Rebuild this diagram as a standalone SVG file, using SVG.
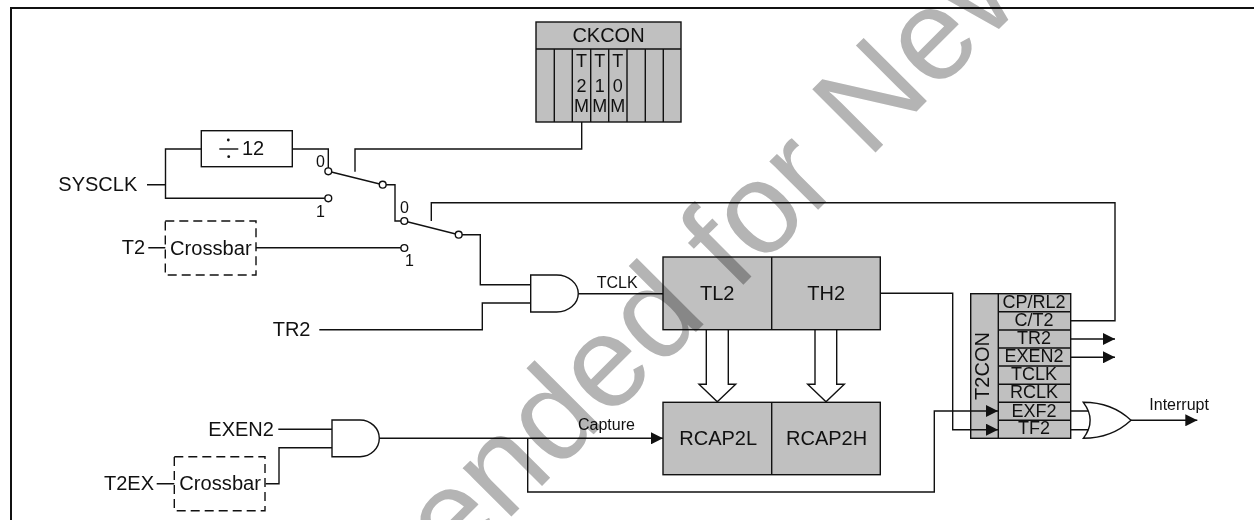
<svg xmlns="http://www.w3.org/2000/svg" width="1254" height="520" viewBox="0 0 1254 520">
<style>
text{font-family:"Liberation Sans",Arial,sans-serif;font-size:20px;fill:#111}
.s18{font-size:18px}.s16{font-size:16px}.m{text-anchor:middle}
.w,.b,.g,.d,.c{stroke:#111;stroke-width:1.4}
.w,.d{fill:none}.b{fill:#c0c0c0}.g{fill:#fff}.c{fill:#fff}
.d{stroke-dasharray:9 5}
.wm{font-size:130px;fill:#b4b4b4;mix-blend-mode:multiply}
</style>
<defs>
<marker id="a" markerUnits="userSpaceOnUse" markerWidth="13" markerHeight="12" refX="12" refY="6" orient="auto"><path d="M0 0L12 6L0 12z" fill="#111"/></marker>
</defs>
<rect width="1254" height="520" fill="#fff"/>
<path id="frame" d="M11 520V8H1254" fill="none" stroke="#111" stroke-width="2"/>
<g id="ckcon">
<rect class="b" x="536" y="22" width="145" height="100"/>
<path class="w" d="M536 49H681M554.3 49V122M572.3 49V122M590.7 49V122M608.7 49V122M627 49V122M645.3 49V122M663.3 49V122"/>
<text class="m" x="608.5" y="41.5">CKCON</text>
<text class="s18 m"><tspan x="581.5" y="67">T</tspan><tspan x="581.5" y="92">2</tspan><tspan x="581.5" y="112">M</tspan></text>
<text class="s18 m"><tspan x="599.7" y="67">T</tspan><tspan x="599.7" y="92">1</tspan><tspan x="599.7" y="112">M</tspan></text>
<text class="s18 m"><tspan x="617.8" y="67">T</tspan><tspan x="617.8" y="92">0</tspan><tspan x="617.8" y="112">M</tspan></text>
</g>
<g id="div12">
<rect class="g" x="201.3" y="130.7" width="91" height="36"/>
<path class="w" d="M219.3 149H238.3"/><circle cx="228.3" cy="140" r="1.4" fill="#111"/><circle cx="228.7" cy="156.7" r="1.4" fill="#111"/>
<text x="242" y="155">12</text>
</g>
<g id="timer">
<rect class="b" x="663" y="257" width="217.3" height="72.7"/><path class="w" d="M771.7 257V329.7"/>
<text x="700" y="300">TL2</text><text x="807.3" y="300">TH2</text>
</g>
<g id="rcap">
<rect class="b" x="663" y="402.3" width="217.3" height="72.4"/><path class="w" d="M771.7 402.3V474.7"/>
<text x="679.3" y="445">RCAP2L</text><text x="786" y="445">RCAP2H</text>
</g>
<g id="t2con">
<rect class="b" x="970.7" y="293.7" width="100" height="144.6"/>
<path class="w" d="M998.3 293.7V438.3M998.3 311.7H1070.7M998.3 330H1070.7M998.3 348H1070.7M998.3 366H1070.7M998.3 384.3H1070.7M998.3 402.3H1070.7M998.3 420.3H1070.7"/>
<text class="m" transform="translate(989.3 366) rotate(-90)">T2CON</text>
<text class="s18 m" x="1034" y="308">CP/RL2</text>
<text class="s18 m" x="1034" y="325.7">C/T2</text>
<text class="s18 m" x="1034" y="344">TR2</text>
<text class="s18 m" x="1034" y="362">EXEN2</text>
<text class="s18 m" x="1034" y="380">TCLK</text>
<text class="s18 m" x="1034" y="398.3">RCLK</text>
<text class="s18 m" x="1034" y="416.7">EXF2</text>
<text class="s18 m" x="1034" y="434.3">TF2</text>
</g>
<g id="connectors">
<path class="w" d="M147 184.7H165.5M201 149H165.5V198.3H325"/>
<path class="w" d="M292 149H328.3V168"/>
<path class="w" d="M328.3 171.3L382.7 184.7H395V221H404.3L458.7 234.7H480.3V284.7H531"/>
<path class="w" d="M355 171.7V149H581.7V122"/>
<path class="w" d="M431.3 221V202.7H1115V320.7H1070.7"/>
<path class="w" d="M148.3 247.7H165.3M256 247.7H401"/>
<path class="w" d="M319.3 329.7H482.3V303H531"/>
<path class="w" d="M578.3 293.7H663"/>
<path class="w" d="M880.5 293.3H952.7V429.7H998" marker-end="url(#a)"/>
<path class="w" d="M278.3 429.3H332M156.7 483.7H174.3M265.7 483.7H279V447.7H332"/>
<path class="w" d="M379.3 438.3H663" marker-end="url(#a)"/>
<path class="w" d="M527.7 438.3V492H934.3V411H998" marker-end="url(#a)"/>
<path class="w" d="M1070.7 339H1115" marker-end="url(#a)"/>
<path class="w" d="M1070.7 357.3H1115" marker-end="url(#a)"/>
<path class="w" d="M1070.7 411H1090M1070.7 429.7H1090"/>
<path class="w" d="M1131 420.3H1197.3" marker-end="url(#a)"/>
<path class="w" d="M706.3 329.7V384.3H699L717.3 401.7L735.7 384.3H728.3V329.7"/>
<path class="w" d="M815 329.7V384.3H807.7L826 401.7L844.3 384.3H836.7V329.7"/>
</g>
<g id="switch-1">
<circle class="c" cx="328.3" cy="171.3" r="3.4"/><circle class="c" cx="328.3" cy="198.3" r="3.4"/><circle class="c" cx="382.7" cy="184.7" r="3.4"/>
<text class="s16" x="316" y="167">0</text><text class="s16" x="316" y="216.7">1</text>
</g>
<g id="switch-2">
<circle class="c" cx="404.3" cy="221" r="3.4"/><circle class="c" cx="404.3" cy="248" r="3.4"/><circle class="c" cx="458.7" cy="234.7" r="3.4"/>
<text class="s16" x="400" y="213">0</text><text class="s16" x="405" y="266">1</text>
</g>
<g id="sysclk"><text x="58.3" y="191">SYSCLK</text></g>
<g id="t2"><text x="121.7" y="254.3">T2</text></g>
<g id="crossbar-1"><rect class="d" x="165.3" y="221" width="90.7" height="54"/><text x="170" y="254.5" textLength="81.7" lengthAdjust="spacingAndGlyphs">Crossbar</text></g>
<g id="tr2"><text x="272.7" y="336">TR2</text></g>
<g id="and-1"><path class="g" d="M530.7 275H556.7A21.6 18.5 0 0 1 556.7 312H530.7z"/></g>
<g id="tclk"><text class="s16" x="596.7" y="287.7">TCLK</text></g>
<g id="exen2"><text x="208.3" y="435.7">EXEN2</text></g>
<g id="t2ex"><text x="104" y="490">T2EX</text></g>
<g id="crossbar-2"><rect class="d" x="174.3" y="456.7" width="90.7" height="54"/><text x="179.3" y="490" textLength="81.7" lengthAdjust="spacingAndGlyphs">Crossbar</text></g>
<g id="and-2"><path class="g" d="M332 420H360A19.3 18.35 0 0 1 360 456.7H332z"/></g>
<g id="capture"><text class="s16" x="578" y="430">Capture</text></g>
<g id="or"><path class="g" d="M1083.3 402.3C1105 402.3 1120 410 1131 420.3C1120 430.6 1105 438.3 1083.3 438.3Q1097 420.3 1083.3 402.3z"/></g>
<g id="interrupt"><text class="s16" x="1149.3" y="410">Interrupt</text></g>
<text class="wm" transform="translate(454 574) rotate(-45)">ended for New</text>
</svg>
